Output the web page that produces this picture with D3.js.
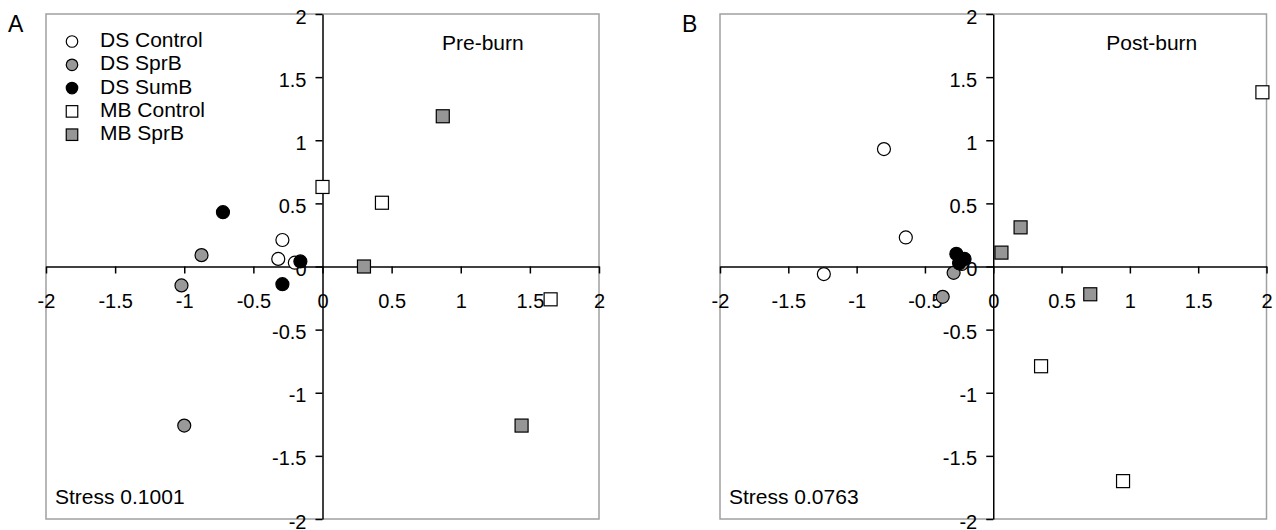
<!DOCTYPE html>
<html>
<head>
<meta charset="utf-8">
<script src="https://cdn.jsdelivr.net/npm/d3@7/dist/d3.min.js"></script>
<style>
  body { margin: 0; background: #fff; }
  svg { font-family: "Liberation Sans", Arial, sans-serif; }
</style>
</head>
<body>
<svg id="chart" width="1276" height="530"></svg>
<script>
// группы и подписи осей
const groups = ["DS Control", "DS SprB", "DS SumB", "MB Control", "MB SprB"];
const tickVals = [-2, -1.5, -1, -0.5, 0, 0.5, 1, 1.5, 2];

// Pre-burn (панель A), точки [x, y]
const preDSControl = [[-0.29, 0.21], [-0.32, 0.06], [-0.20, 0.03]];
const preDSSprB    = [[-0.875, 0.09], [-1.02, -0.15], [-1.0, -1.26]];
const preDSSumB    = [[-0.72, 0.43], [-0.16, 0.04], [-0.29, -0.14]];
const preMBControl = [[0.0, 0.63], [0.43, 0.505], [1.65, -0.26]];
const preMBSprB    = [[0.87, 1.19], [0.30, 0.0], [1.44, -1.26]];

// Post-burn (панель B)
const postDSControl = [[-0.80, 0.93], [-0.64, 0.23], [-1.24, -0.06]];
const postDSSprB    = [[-0.29, -0.05], [-0.37, -0.24], [-0.23, 0.02]];
const postDSSumB    = [[-0.27, 0.10], [-0.21, 0.06], [-0.25, 0.025]];
const postMBControl = [[1.97, 1.38], [0.35, -0.79], [0.95, -1.70]];
const postMBSprB    = [[0.06, 0.11], [0.20, 0.31], [0.71, -0.22]];

const markers = {
    "DS Control": { shape: "circle", fill: "#ffffff" },
    "DS SprB":    { shape: "circle", fill: "#999999" },
    "DS SumB":    { shape: "circle", fill: "#000000" },
    "MB Control": { shape: "square", fill: "#ffffff" },
    "MB SprB":    { shape: "square", fill: "#969696" }
};

const panels = [
    { label: "A", title: "Pre-burn", stress: "Stress 0.1001", left: 46, right: 599, legend: true,
      series: [preDSControl, preDSSprB, preDSSumB, preMBControl, preMBSprB] },
    { label: "B", title: "Post-burn", stress: "Stress 0.0763", left: 720, right: 1266.5, legend: false,
      series: [postDSControl, postDSSprB, postDSSumB, postMBControl, postMBSprB] }
];

const svg = d3.select("#chart");
const plotTop = 14, plotBottom = 519;

function drawMarker(g, shape, fill, cx, cy, size) {
    if (shape === "circle") {
        g.append("circle")
            .attr("cx", cx).attr("cy", cy).attr("r", size / 2)
            .attr("fill", fill).attr("stroke", "#000").attr("stroke-width", 1.2);
    } else {
        g.append("rect")
            .attr("x", cx - size / 2).attr("y", cy - size / 2)
            .attr("width", size).attr("height", size)
            .attr("fill", fill).attr("stroke", "#000").attr("stroke-width", 1.2);
    }
}

panels.forEach(p => {
    const scX = d3.scaleLinear().domain([-2, 2]).range([p.left, p.right]);
    const scY = d3.scaleLinear().domain([-2, 2]).range([plotBottom, plotTop]);
    const g = svg.append("g");

    // рамка области построения
    g.append("rect")
        .attr("x", p.left).attr("y", plotTop)
        .attr("width", p.right - p.left).attr("height", plotBottom - plotTop)
        .attr("fill", "none").attr("stroke", "#a0a0a0").attr("stroke-width", 1.5);

    // оси через начало координат
    const fmt = d => String(d);
    const axX = g.append("g")
        .attr("transform", `translate(0, ${scY(0)})`)
        .call(d3.axisBottom(scX).tickValues(tickVals).tickFormat(fmt)
            .tickSizeInner(7).tickSizeOuter(0).tickPadding(20));
    const axY = g.append("g")
        .attr("transform", `translate(${scX(0)}, 0)`)
        .call(d3.axisLeft(scY).tickValues(tickVals).tickFormat(fmt)
            .tickSizeInner(7).tickSizeOuter(0).tickPadding(9));
    [axX, axY].forEach(a => {
        a.selectAll("path, line").attr("stroke", "#000").attr("stroke-width", 1.5);
        a.selectAll("text").attr("font-size", 20).attr("fill", "#000")
            .attr("font-family", "Liberation Sans, Arial, sans-serif");
    });
    axY.selectAll("text").attr("dy", "0.45em");

    // точки
    p.series.forEach((pts, i) => {
        const m = markers[groups[i]];
        const sg = g.append("g");
        pts.forEach(d => drawMarker(sg, m.shape, m.fill, scX(d[0]), scY(d[1]), 13));
    });

    // подписи
    g.append("text").attr("x", p.left - 38).attr("y", 32)
        .attr("font-size", 23).text(p.label);
    g.append("text").attr("x", scX(1.16)).attr("y", 50)
        .attr("text-anchor", "middle").attr("font-size", 21).text(p.title);
    g.append("text").attr("x", p.left + 9).attr("y", 504)
        .attr("font-size", 21).text(p.stress);

    if (p.legend) {
        groups.forEach((name, i) => {
            const cy = 41.5 + i * 23.3;
            const m = markers[name];
            drawMarker(g, m.shape, m.fill, 72, cy, 11.5);
            g.append("text").attr("x", 100).attr("y", cy + 5.5)
                .attr("font-size", 21).text(name);
        });
    }
});
</script>
</body>
</html>
